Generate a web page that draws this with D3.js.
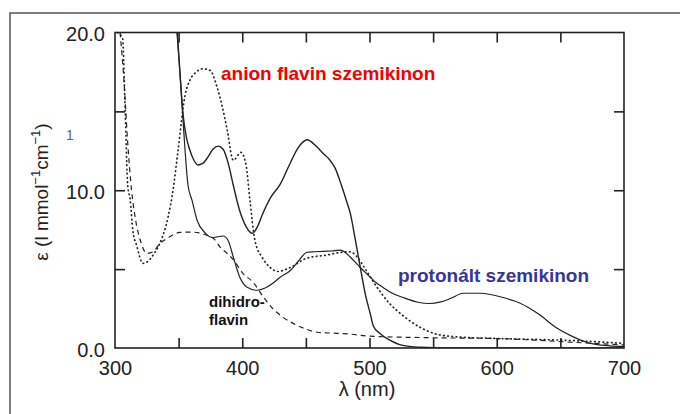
<!DOCTYPE html>
<html>
<head>
<meta charset="utf-8">
<script src="https://cdn.jsdelivr.net/npm/d3@7"></script>
<style>
  body { margin: 0; background: #fff; }
  svg { font-family: "Liberation Sans", Arial, sans-serif; }
  .tick text { font-size: 20px; fill: #222; }
  .tick line { stroke: #222; stroke-width: 1.6; }
</style>
</head>
<body>
<div id="chart"></div>
<script>
// Step 1: data
// =================================
// oxidized flavin (solid)
var oxLambda = [349, 351, 353.5, 356, 359, 362, 365, 369, 373, 377, 381, 385, 389, 393, 398, 403, 408, 412, 416, 422, 430, 437, 444, 451, 458, 464, 468, 473, 478, 482, 485, 489, 493, 497, 500.5, 503, 508, 516, 526, 540, 560, 700];
var oxEps = [20, 17.5, 14.8, 13.4, 12.5, 11.9, 11.6, 11.7, 12.1, 12.6, 12.8, 12.6, 11.7, 10.3, 8.7, 7.7, 7.27, 7.7, 8.5, 9.5, 10.4, 11.6, 12.7, 13.2, 12.8, 12.3, 12.0, 11.4, 10.3, 9.3, 8.5, 6.8, 5.0, 3.3, 2.2, 1.4, 0.93, 0.5, 0.17, 0.05, 0, 0];

// protonated semiquinone (solid)
var semiLambda = [348.7, 351, 353.5, 357.4, 360.5, 364.5, 370.8, 377, 385, 389, 393, 398, 403.8, 411.6, 418, 424, 430, 437.6, 444, 451, 457, 463.8, 470, 477, 481, 485, 492.6, 500.5, 505, 510.7, 516, 526.5, 538, 547, 556, 564, 573.6, 587, 605, 618, 632, 647.5, 657.7, 671, 684, 700];
var semiEps = [20, 17.5, 14.4, 10.3, 9.37, 8.1, 7.3, 7.0, 7.1, 6.8, 5.75, 4.5, 3.85, 3.66, 3.8, 4.1, 4.5, 4.9, 5.5, 6.07, 6.1, 6.13, 6.15, 6.2, 6.05, 5.75, 5.12, 4.5, 4.15, 3.84, 3.55, 3.2, 2.9, 2.82, 2.92, 3.15, 3.47, 3.47, 3.2, 2.85, 2.2, 1.25, 0.8, 0.36, 0.17, 0.1];

// anion semiquinone (dotted)
var anionLambda = [302, 306, 308, 310, 312, 314, 317, 322, 326, 330, 335, 341.7, 345.6, 349.5, 355, 359, 364, 368.5, 374.7, 380, 384, 388, 393, 399, 403, 406, 410, 415.6, 422, 428, 437.6, 451, 467, 477, 485, 490, 496, 503, 516, 526, 540, 553, 570, 600, 650, 700];
var anionEps = [20, 19.6, 15.0, 10.3, 9.37, 7.47, 6.5, 5.37, 5.5, 5.9, 6.6, 8.3, 10.0, 12.5, 16.0, 17.0, 17.5, 17.7, 17.6, 16.6, 15.4, 13.9, 11.9, 12.4, 11.6, 9.4, 6.8, 5.75, 5.1, 4.85, 5.1, 5.7, 5.9, 6.06, 6.1, 5.8, 5.1, 4.2, 2.8, 2.07, 1.3, 0.87, 0.7, 0.6, 0.5, 0.3];

// dihydroflavin (dashed)
var hydroLambda = [304, 307, 310, 313, 316, 320, 325, 330, 335, 342, 351, 359, 366, 372, 378, 382.6, 388, 393, 400.6, 408.5, 416, 424, 432, 440, 450, 459, 474.5, 485, 500, 550, 600, 630, 660, 700];
var hydroEps = [20, 17, 13, 10, 8.2, 6.8, 6.0, 6.1, 6.6, 7.0, 7.33, 7.35, 7.3, 7.15, 6.9, 6.4, 6.0, 5.6, 4.72, 4.17, 3.3, 2.5, 1.95, 1.56, 1.2, 1.0, 0.93, 0.88, 0.75, 0.65, 0.6, 0.5, 0.36, 0.2];

var xTicks = [300, 350, 400, 450, 500, 550, 600, 650, 700];
var xLabels = [300, 400, 500, 600, 700];
var yTicks = [0, 5, 10, 15, 20];
var yLabels = [0, 10, 20];

// Step 2: svg and chart area
// =================================
var svgWidth = 680;
var svgHeight = 414;

var margin = { top: 32.5, right: 56, bottom: 66, left: 115 };
var width = svgWidth - margin.left - margin.right;
var height = svgHeight - margin.top - margin.bottom;

var svg = d3.select("#chart")
  .append("svg")
  .attr("width", svgWidth)
  .attr("height", svgHeight);

// outer frame of the slide
svg.append("path")
  .attr("d", "M10,420 L10,13 L690,13")
  .attr("fill", "none")
  .attr("stroke", "#555")
  .attr("stroke-width", 1.5);

var chartGroup = svg.append("g")
  .attr("transform", `translate(${margin.left}, ${margin.top})`);

// Step 3: scales
// =================================
var xScale = d3.scaleLinear().domain([300, 700]).range([0, width]);
var yScale = d3.scaleLinear().domain([0, 20]).range([height, 0]);

// Step 4: axes, ticks pointing inwards
// =================================
var fmtX = d => xLabels.indexOf(d) >= 0 ? d : "";
var fmtY = d => yLabels.indexOf(d) >= 0 ? d3.format(".1f")(d) : "";

chartGroup.append("g")
  .attr("transform", `translate(0, ${height})`)
  .call(d3.axisBottom(xScale).tickValues(xTicks).tickFormat(fmtX).tickSizeInner(-10).tickSizeOuter(0).tickPadding(13))
  .call(g => g.select(".domain").remove());

chartGroup.append("g")
  .call(d3.axisTop(xScale).tickValues(xTicks).tickFormat("").tickSizeInner(-10).tickSizeOuter(0))
  .call(g => g.select(".domain").remove());

chartGroup.append("g")
  .call(d3.axisLeft(yScale).tickValues(yTicks).tickFormat(fmtY).tickSizeInner(-10).tickSizeOuter(0).tickPadding(10))
  .call(g => g.select(".domain").remove())
  .call(g => g.selectAll("text").attr("dy", "0.42em"));

chartGroup.append("g")
  .attr("transform", `translate(${width}, 0)`)
  .call(d3.axisRight(yScale).tickValues(yTicks).tickFormat("").tickSizeInner(-10).tickSizeOuter(0))
  .call(g => g.select(".domain").remove());

// remove end ticks that sit on the frame
chartGroup.selectAll(".tick line").filter(d => d === 300 || d === 700 || d === 0 || d === 20).remove();

// Step 5: curves
// =================================
chartGroup.append("clipPath")
  .attr("id", "plotClip")
  .append("rect")
  .attr("width", width)
  .attr("height", height);

var line = d3.line()
  .x(d => xScale(d[0]))
  .y(d => yScale(d[1]))
  .curve(d3.curveMonotoneX);

var series = [
  { lam: hydroLambda, eps: hydroEps, dash: "5,4", w: 1.2, cap: "butt" },
  { lam: anionLambda, eps: anionEps, dash: "0.6,3.6", w: 1.7, cap: "round" },
  { lam: semiLambda, eps: semiEps, dash: null, w: 1.2, cap: "butt" },
  { lam: oxLambda, eps: oxEps, dash: null, w: 1.4, cap: "butt" }
];

var curves = chartGroup.append("g").attr("clip-path", "url(#plotClip)");
series.forEach(function(s) {
  curves.append("path")
    .attr("d", line(d3.zip(s.lam, s.eps)))
    .attr("fill", "none")
    .attr("stroke", "#222")
    .attr("stroke-width", s.w)
    .attr("stroke-linecap", s.cap)
    .attr("stroke-dasharray", s.dash);
});

// plot frame
chartGroup.append("rect")
  .attr("width", width)
  .attr("height", height)
  .attr("fill", "none")
  .attr("stroke", "#222")
  .attr("stroke-width", 1.6);

// Step 6: axis labels and annotations
// =================================
svg.append("text")
  .attr("x", 367)
  .attr("y", 396)
  .attr("text-anchor", "middle")
  .attr("font-size", 20)
  .attr("fill", "#222")
  .text("λ (nm)");

var yLab = svg.append("text")
  .attr("transform", "translate(48, 192) rotate(-90)")
  .attr("text-anchor", "middle")
  .attr("font-size", 19)
  .attr("fill", "#222");
yLab.append("tspan").text("ε (l mmol");
yLab.append("tspan").attr("font-size", 13).attr("dy", -8).text("−1");
yLab.append("tspan").attr("dy", 8).text("cm");
yLab.append("tspan").attr("font-size", 13).attr("dy", -8).text("−1");
yLab.append("tspan").attr("dy", 8).text(")");

// stray mark left of the axis
svg.append("text")
  .attr("x", 70)
  .attr("y", 140)
  .attr("text-anchor", "middle")
  .attr("font-size", 14)
  .attr("fill", "#666")
  .text("1");

svg.append("text")
  .attr("x", 221)
  .attr("y", 80)
  .attr("font-size", 19)
  .attr("font-weight", "bold")
  .attr("fill", "#f20000")
  .text("anion flavin szemikinon");

svg.append("text")
  .attr("x", 398)
  .attr("y", 282)
  .attr("font-size", 19)
  .attr("font-weight", "bold")
  .attr("fill", "#35359a")
  .text("protonált szemikinon");

svg.append("text")
  .attr("x", 209)
  .attr("y", 307)
  .attr("font-size", 15)
  .attr("font-weight", "bold")
  .attr("fill", "#111")
  .text("dihidro-");

svg.append("text")
  .attr("x", 209)
  .attr("y", 325)
  .attr("font-size", 15)
  .attr("font-weight", "bold")
  .attr("fill", "#111")
  .text("flavin");
</script>
</body>
</html>
